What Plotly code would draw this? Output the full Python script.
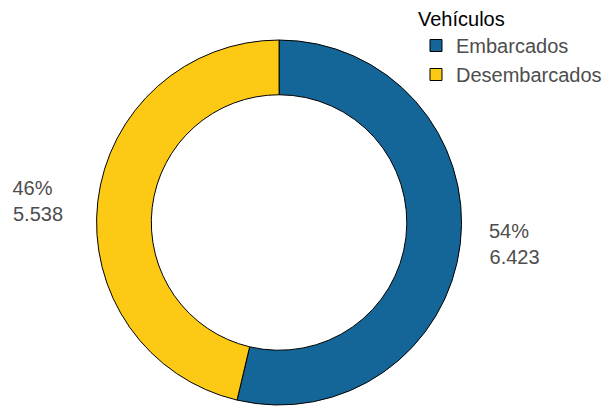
import plotly.graph_objects as go

categories = ["Embarcados", "Desembarcados"]
values = [6423, 5538]
colors = ["#146699", "#FCC914"]
legend_title = "Vehículos"

total = sum(values)
NB = "\u00a0"


def fmt_label(v, right_side):
    pct = f"{round(v / total * 100)}%"
    num = f"{v:,}".replace(",", ".")
    # pad the shorter first line so both lines look left aligned
    pct = pct + NB * 2
    if right_side:
        gap = NB * 3
        return f"{gap}{pct}<br>{gap}{num}"
    gap = NB * 4
    return f"{pct}{gap}<br>{num}{gap}"


# first slice (clockwise from 12 o'clock) ends on the right side
texts = [fmt_label(v, i == 0) for i, v in enumerate(values)]

FONT = "Liberation Sans, Arial, sans-serif"

fig = go.Figure(go.Pie(
    labels=categories,
    values=values,
    text=texts,
    textinfo="text",
    textposition="outside",
    hole=0.70,
    sort=False,
    direction="clockwise",
    rotation=0,
    marker=dict(colors=colors, line=dict(color="#000000", width=1)),
    textfont=dict(family=FONT, size=20, color="#4d4d4d"),
    domain=dict(x=[0.157, 0.752], y=[0.0122, 0.9024]),
    showlegend=True,
    hoverinfo="label+value+percent",
))

fig.update_layout(
    width=614, height=410,
    margin=dict(l=0, r=0, t=0, b=0),
    paper_bgcolor="white",
    plot_bgcolor="white",
    font=dict(family=FONT, size=20, color="#4d4d4d"),
    legend=dict(
        title=dict(text=legend_title, font=dict(color="#000000", size=20)),
        x=0.6775, y=1.0, xanchor="left", yanchor="top",
        font=dict(size=20, color="#4d4d4d"),
        bgcolor="rgba(0,0,0,0)",
        tracegroupgap=0,
    ),
)

fig.write_html(
    "out.html",
    config={"displayModeBar": False},
    post_script="document.body.style.margin='0';",
)
